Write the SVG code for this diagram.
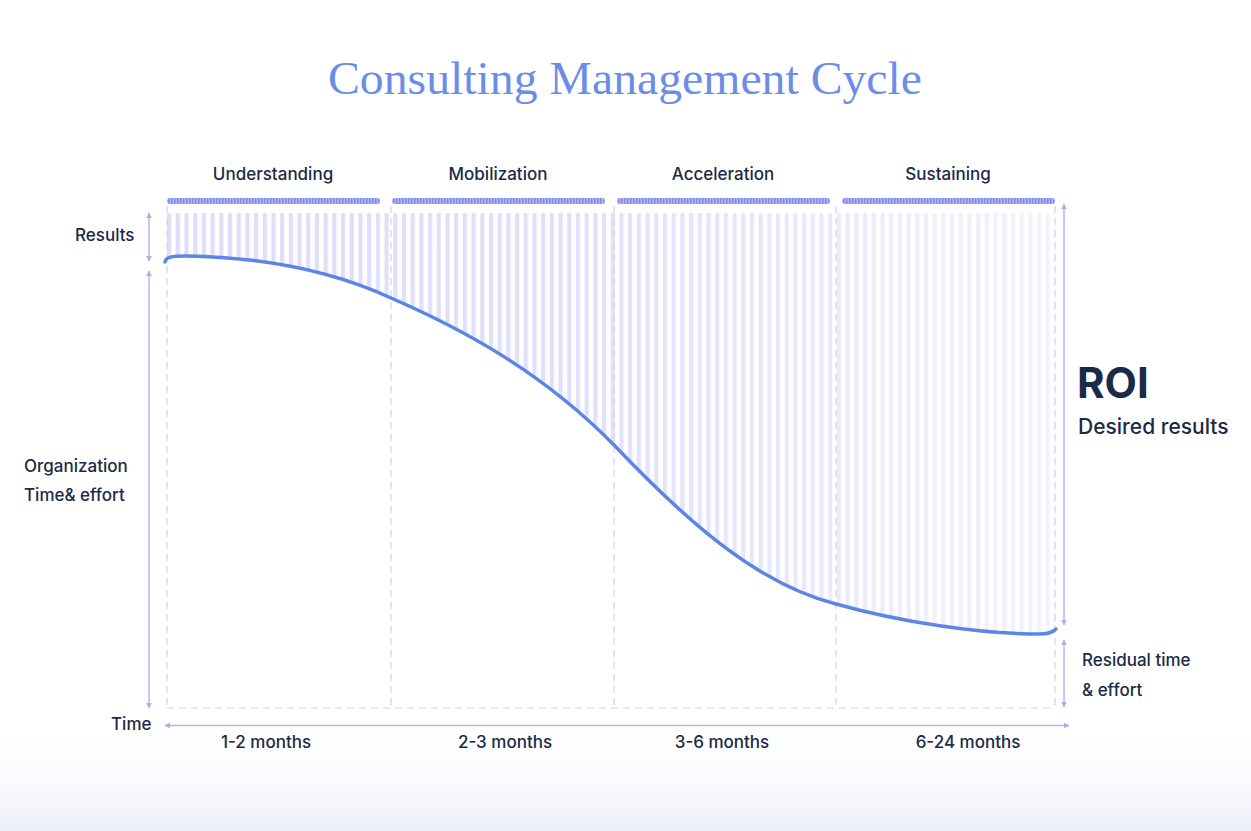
<svg xmlns="http://www.w3.org/2000/svg" width="1251" height="831" viewBox="0 0 1251 831">
<style>
.lbl{font-family:Inter,"Liberation Sans",sans-serif;font-size:17px;font-weight:500;fill:#1b2a47}
.ax{stroke:#b3b9ee;stroke-width:1.5;fill:none}
.dash{stroke:#d3d3db;stroke-width:1.2;stroke-dasharray:7 5;fill:none}
</style>
<defs>
<pattern id="stripes" x="167" y="0" width="8.7" height="10" patternUnits="userSpaceOnUse">
<rect x="0" y="0" width="4.2" height="10" fill="#dedefa"/>
</pattern>
<pattern id="barp" x="0" y="0" width="3" height="10" patternUnits="userSpaceOnUse">
<rect x="0" y="0" width="3" height="10" fill="#b0b6f6"/>
<rect x="0" y="0" width="1.5" height="10" fill="#7f89ee"/>
</pattern>
<linearGradient id="fade" x1="167" y1="0" x2="1055" y2="0" gradientUnits="userSpaceOnUse">
<stop offset="0" stop-color="#fff" stop-opacity="1"/>
<stop offset="0.5" stop-color="#fff" stop-opacity="0.9"/>
<stop offset="1" stop-color="#fff" stop-opacity="0.35"/>
</linearGradient>
<mask id="areaMask">
<path d="M165,262 C166,257 172,256 185,256 C260,257 330,270 391,298 C460,328 540,370 614,445 C690,525 760,585 836,604 C900,622 980,634 1040,634 C1048,634 1053,632 1056,629 L1055,213 L167,213 Z" fill="url(#fade)"/>
</mask>
<linearGradient id="bgv" x1="0" y1="730" x2="0" y2="831" gradientUnits="userSpaceOnUse">
<stop offset="0" stop-color="#eceffa" stop-opacity="0"/>
<stop offset="0.5" stop-color="#eceffa" stop-opacity="0.25"/>
<stop offset="1" stop-color="#eceffa" stop-opacity="1"/>
</linearGradient>
<marker id="ah" viewBox="0 0 10 10" refX="9" refY="5" markerWidth="6" markerHeight="6" orient="auto-start-reverse" markerUnits="userSpaceOnUse">
<path d="M0,0 L10,5 L0,10 Z" fill="#a8b0ec"/>
</marker>
</defs>
<rect width="1251" height="831" fill="#fff"/>
<rect x="0" y="730" width="1251" height="101" fill="url(#bgv)"/>

<g id="title">
<text x="625" y="94" text-anchor="middle" font-family="'Liberation Serif',serif" font-size="47" fill="#6a8ee8" textLength="594" lengthAdjust="spacingAndGlyphs">Consulting Management Cycle</text>
</g>

<g id="area">
<rect x="167" y="213" width="888" height="425" fill="url(#stripes)" mask="url(#areaMask)"/>
</g>

<g id="grid">
<path class="dash" d="M167,206 V708 M391,206 V708 M614,206 V708 M836,206 V708 M1055,206 V708 M167,708 H1055"/>
</g>

<g id="phases">
<g id="phase-understanding">
<rect x="167" y="198" width="213" height="6" rx="3" fill="url(#barp)"/>
<text class="lbl" x="273" y="180" text-anchor="middle">Understanding</text>
</g>
<g id="phase-mobilization">
<rect x="392" y="198" width="213" height="6" rx="3" fill="url(#barp)"/>
<text class="lbl" x="498" y="180" text-anchor="middle">Mobilization</text>
</g>
<g id="phase-acceleration">
<rect x="617" y="198" width="213" height="6" rx="3" fill="url(#barp)"/>
<text class="lbl" x="723" y="180" text-anchor="middle">Acceleration</text>
</g>
<g id="phase-sustaining">
<rect x="842" y="198" width="213" height="6" rx="3" fill="url(#barp)"/>
<text class="lbl" x="948" y="180" text-anchor="middle">Sustaining</text>
</g>
</g>

<g id="curve">
<path d="M165,262 C166,257 172,256 185,256 C260,257 330,270 391,298 C460,328 540,370 614,445 C690,525 760,585 836,604 C900,622 980,634 1040,634 C1048,634 1053,632 1056,629" fill="none" stroke="#5b85e6" stroke-width="3.5" stroke-linecap="round"/>
</g>

<g id="connectors">
<line class="ax" x1="149" y1="213" x2="149" y2="261" marker-start="url(#ah)" marker-end="url(#ah)"/>
<line class="ax" x1="149" y1="271" x2="149" y2="708" marker-start="url(#ah)" marker-end="url(#ah)"/>
<line class="ax" x1="165" y1="725.5" x2="1069" y2="725.5" marker-start="url(#ah)" marker-end="url(#ah)"/>
<line class="ax" x1="1064" y1="204" x2="1064" y2="625" marker-start="url(#ah)" marker-end="url(#ah)"/>
<line class="ax" x1="1064" y1="640" x2="1064" y2="707" marker-start="url(#ah)" marker-end="url(#ah)"/>
</g>

<g id="labels-left">
<text class="lbl" x="75" y="241">Results</text>
<text class="lbl" x="24" y="472">Organization</text>
<text class="lbl" x="24" y="501">Time&amp; effort</text>
<text class="lbl" x="111" y="730">Time</text>
</g>

<g id="labels-bottom">
<text class="lbl" x="266" y="748" text-anchor="middle">1-2 months</text>
<text class="lbl" x="505" y="748" text-anchor="middle">2-3 months</text>
<text class="lbl" x="722" y="748" text-anchor="middle">3-6 months</text>
<text class="lbl" x="968" y="748" text-anchor="middle">6-24 months</text>
</g>

<g id="roi">
<text x="1077" y="398" font-family="Inter,'Liberation Sans',sans-serif" font-size="42" font-weight="700" fill="#1b2a47">ROI</text>
<text x="1078" y="434" font-family="Inter,'Liberation Sans',sans-serif" font-size="21" font-weight="500" fill="#1b2a47">Desired results</text>
</g>

<g id="residual">
<text class="lbl" x="1082" y="666">Residual time</text>
<text class="lbl" x="1082" y="696">&amp; effort</text>
</g>
</svg>
